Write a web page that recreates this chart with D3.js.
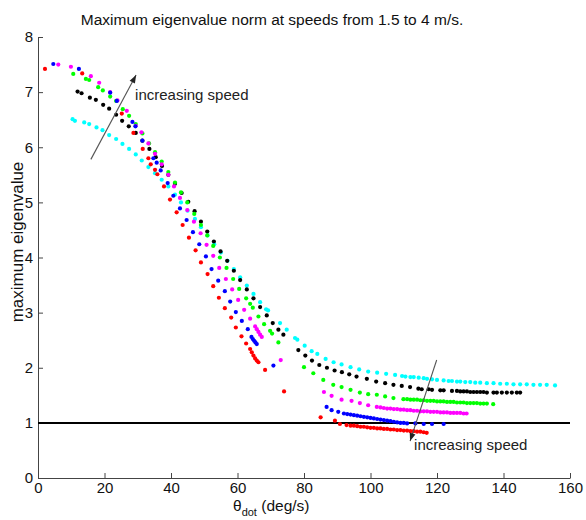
<!DOCTYPE html>
<html>
<head>
<meta charset="utf-8">
<script src="https://cdn.jsdelivr.net/npm/d3@7/dist/d3.min.js"></script>
<style>
  body { margin: 0; background: #fff; }
  text { font-family: "Liberation Sans", Arial, sans-serif; }
</style>
</head>
<body>
<svg id="chart"></svg>
<script>
// values: [theta_dot (deg/s), max eigenvalue]
var cyanPts = [[10.4,6.51],[11.1,6.48],[13.9,6.45],[15.4,6.42],[17.6,6.36],[19.4,6.31],[21.4,6.22],[23.5,6.15],[25.4,6.06],[27.4,5.97],[29.4,5.87],[31.2,5.76],[33.2,5.64],[35.2,5.53],[37.2,5.41],[39.2,5.29],[41.2,5.14],[43.0,5.00],[45.0,4.85],[47.2,4.70],[49.0,4.55],[51.0,4.40],[53.0,4.24],[55.0,4.09],[57.0,3.94],[58.9,3.79],[60.8,3.64],[62.8,3.49],[64.8,3.34],[66.8,3.19],[68.6,3.06],[69.2,3.04],[72.8,2.81],[74.8,2.69],[77.3,2.54],[78.0,2.51],[80.2,2.40],[82.3,2.30],[84.0,2.25],[86.5,2.16],[88.9,2.10],[91.3,2.06],[94.0,2.01],[96.6,1.97],[99.3,1.93],[102.0,1.91],[104.7,1.89],[107.4,1.87],[109.5,1.85],[110.5,1.84],[112,1.83],[113,1.83],[114.5,1.82],[116,1.81],[117,1.80],[118.5,1.79],[120,1.78],[122,1.77],[123.5,1.76],[124.5,1.76],[126,1.75],[127,1.75],[128.5,1.74],[130,1.74],[131.5,1.73],[133,1.73],[135,1.72],[137,1.72],[139,1.71],[141,1.71],[143,1.70],[145,1.70],[147,1.70],[149,1.69],[151,1.69],[153,1.69],[155.5,1.68]];
var blackPts = [[11.9,7.01],[13.1,6.98],[15.6,6.90],[17.4,6.86],[19.6,6.77],[21.4,6.70],[23.5,6.59],[25.3,6.48],[27.3,6.38],[29.4,6.26],[31.4,6.12],[33.5,5.97],[35.4,5.82],[37.3,5.66],[39.2,5.50],[41.2,5.34],[43.2,5.17],[45.2,5.01],[47.1,4.84],[49.0,4.65],[50.9,4.47],[52.9,4.29],[54.9,4.11],[56.9,3.94],[58.9,3.76],[60.8,3.59],[62.8,3.42],[64.8,3.26],[66.8,3.10],[68.8,2.95],[70.6,2.81],[72.3,2.69],[73.8,2.60],[78.3,2.32],[80.4,2.22],[82.4,2.13],[84.6,2.05],[86.9,2.00],[89.2,1.95],[91.4,1.92],[93.6,1.88],[95.8,1.84],[98.9,1.80],[101.7,1.75],[104.4,1.72],[106.9,1.69],[109.4,1.67],[111.9,1.65],[114.4,1.62],[115.4,1.61],[117.5,1.61],[118.5,1.60],[121,1.59],[122,1.59],[124.5,1.58],[126,1.58],[127,1.57],[128,1.57],[129,1.57],[130,1.56],[131,1.56],[132,1.56],[133,1.56],[134,1.56],[135,1.55],[137,1.55],[138,1.55],[139.5,1.55],[141,1.55],[142.5,1.55],[144,1.55],[145,1.55]];
var greenPts = [[10.6,7.33],[14.4,7.24],[15.4,7.22],[18.1,7.09],[19.5,7.03],[21.7,6.92],[23.5,6.84],[25.5,6.69],[27.4,6.57],[29.4,6.42],[31.4,6.25],[33.4,6.07],[35.2,5.91],[37.2,5.74],[39.2,5.55],[41.2,5.36],[43.0,5.18],[44.9,5.00],[47.0,4.79],[49.0,4.59],[50.9,4.40],[52.7,4.21],[54.7,4.00],[56.7,3.81],[58.7,3.61],[60.5,3.43],[62.6,3.26],[63.8,3.16],[64.6,3.09],[66.3,2.93],[68.0,2.79],[69.8,2.67],[70.4,2.62],[72.3,2.46],[80.0,2.01],[82.8,1.90],[85.8,1.78],[88.8,1.69],[91.3,1.65],[94.0,1.60],[96.8,1.55],[99.3,1.52],[101.9,1.51],[104.4,1.48],[106.9,1.45],[109.9,1.43],[111,1.43],[112,1.42],[113,1.42],[114,1.42],[115,1.41],[116,1.41],[117,1.40],[118,1.40],[119,1.40],[120,1.39],[121,1.39],[122,1.39],[123,1.38],[124,1.38],[125,1.38],[126,1.37],[127,1.37],[128,1.37],[129,1.36],[130,1.36],[131,1.36],[132,1.36],[133,1.35],[134,1.35],[135,1.35],[136.9,1.34]];
var magentaPts = [[6.1,7.50],[9.9,7.46],[15.9,7.29],[18.4,7.17],[21.7,7.00],[23.9,6.85],[26.7,6.66],[29.4,6.39],[31.1,6.27],[33.2,6.07],[35.2,5.88],[37.2,5.69],[39.2,5.50],[40.9,5.29],[42.7,5.08],[44.9,4.86],[46.9,4.65],[48.9,4.44],[50.7,4.23],[52.7,4.03],[54.5,3.81],[56.5,3.61],[58.4,3.42],[60.2,3.23],[62.0,3.05],[63.8,2.89],[65.3,2.75],[65.8,2.70],[66.3,2.65],[66.8,2.60],[67.3,2.56],[73.0,2.14],[86.0,1.56],[88.3,1.49],[91.3,1.42],[94.3,1.40],[96.8,1.36],[99.3,1.32],[101.9,1.29],[103,1.28],[104,1.27],[105,1.26],[106,1.26],[107,1.25],[108,1.25],[109,1.24],[110,1.24],[111,1.23],[112,1.23],[113,1.22],[114,1.22],[115,1.21],[116,1.21],[117,1.21],[118,1.20],[119,1.20],[120,1.20],[121,1.19],[122,1.19],[123,1.19],[124,1.18],[125,1.18],[126,1.18],[127,1.18],[128,1.17],[128.9,1.17]];
var bluePts = [[4.6,7.51],[12.3,7.42],[21.7,6.99],[23.7,6.84],[28.4,6.46],[29.3,6.38],[31.4,6.12],[34.7,5.80],[35.7,5.72],[36.9,5.58],[39.0,5.35],[40.7,5.12],[42.7,4.89],[44.7,4.68],[46.6,4.46],[48.5,4.24],[50.5,4.02],[52.2,3.79],[54.2,3.58],[56.2,3.39],[57.8,3.20],[59.5,3.01],[61.3,2.85],[63.1,2.70],[64.2,2.56],[64.6,2.52],[65.0,2.49],[65.4,2.46],[65.8,2.43],[70.8,2.04],[86.8,1.29],[88.3,1.23],[90.3,1.20],[92,1.17],[93,1.16],[94,1.15],[95,1.14],[96,1.13],[97,1.12],[98,1.11],[99,1.10],[100,1.09],[101,1.08],[102,1.07],[103,1.06],[104,1.05],[105,1.04],[106,1.03],[107,1.02],[108,1.01],[109,1.00],[110,1.00],[111,0.99],[113.5,0.99],[116,0.98],[118.5,0.98],[122,0.98]];
var redPts = [[2.1,7.42],[13.3,7.34],[25.2,6.61],[28.7,6.26],[31.5,5.97],[33.2,5.80],[33.9,5.69],[35.2,5.59],[35.9,5.51],[37.9,5.29],[39.7,5.05],[41.7,4.82],[43.5,4.59],[45.4,4.36],[47.4,4.13],[49.0,3.91],[51.0,3.70],[52.7,3.48],[54.4,3.27],[56.2,3.08],[58.1,2.91],[59.5,2.73],[61.2,2.57],[62.6,2.44],[63.8,2.34],[64.3,2.28],[64.8,2.22],[65.3,2.17],[65.8,2.13],[66.3,2.10],[68.3,1.96],[74.0,1.57],[85.0,1.10],[89.3,1.04],[90.8,0.98],[92.8,0.96],[94,0.95],[95,0.95],[96,0.94],[97,0.93],[98,0.93],[99,0.92],[100,0.91],[101,0.91],[102,0.90],[103,0.90],[104,0.89],[105,0.89],[106,0.88],[107,0.88],[108,0.87],[109,0.87],[110,0.86],[111,0.86],[112,0.85],[113,0.85],[114,0.84],[115,0.84],[116,0.83],[116.9,0.82]];

var xTicks = [0, 20, 40, 60, 80, 100, 120, 140, 160];
var yTicks = [0, 1, 2, 3, 4, 5, 6, 7, 8];
var refLevel = 1;
// annotation arrows in data units: [tail, head]
var arrowUp = [[15.9, 5.78], [29.5, 7.31]];
var arrowDown = [[119.9, 2.14], [111.9, 0.67]];

var series = [
  {pts: cyanPts, color: "#00ffff"},
  {pts: blackPts, color: "#000000"},
  {pts: greenPts, color: "#00ff00"},
  {pts: magentaPts, color: "#ff00ff"},
  {pts: bluePts, color: "#0000ff"},
  {pts: redPts, color: "#ff0000"}
];

var W = 586, H = 520;
var m = {left: 38, right: 16, top: 37, bottom: 42};

var svg = d3.select("#chart")
    .attr("width", W)
    .attr("height", H)
    .style("background-color", "white");

var x = d3.scaleLinear().domain([0, 160]).range([m.left, W - m.right]);
var y = d3.scaleLinear().domain([0, 8]).range([H - m.bottom, m.top]);

// axes, ticks pointing inwards like matlab
var gx = svg.append("g")
    .attr("transform", "translate(0," + y(0) + ")")
    .call(d3.axisBottom(x).tickValues(xTicks).tickSizeInner(-5).tickSizeOuter(0).tickPadding(4));
var gy = svg.append("g")
    .attr("transform", "translate(" + x(0) + ",0)")
    .call(d3.axisLeft(y).tickValues(yTicks).tickSizeInner(-5).tickSizeOuter(0).tickPadding(5));
[gx, gy].forEach(function(g){
  g.selectAll("path, line").attr("stroke", "#444");
  g.selectAll("text").attr("fill", "#111").style("font-size", "15px")
      .style("font-family", "'Liberation Sans', Arial, sans-serif");
});

// reference line at 1
svg.append("line")
    .attr("x1", x(0)).attr("x2", x(160))
    .attr("y1", y(refLevel)).attr("y2", y(refLevel))
    .attr("stroke", "black")
    .attr("stroke-width", 2);

// dots
series.forEach(function(s){
  svg.append("g").selectAll("circle")
      .data(s.pts)
      .enter().append("circle")
      .attr("cx", function(d){ return x(d[0]); })
      .attr("cy", function(d){ return y(d[1]); })
      .attr("r", 2.1)
      .attr("fill", s.color);
});

// arrows
function arrow(a){
  var x1 = x(a[0][0]), y1 = y(a[0][1]), x2 = x(a[1][0]), y2 = y(a[1][1]);
  var ang = Math.atan2(y2 - y1, x2 - x1);
  var L = 8, hw = 3;
  svg.append("line")
      .attr("x1", x1).attr("y1", y1).attr("x2", x2).attr("y2", y2)
      .attr("stroke", "#555").attr("stroke-width", 1.1);
  var bx = x2 - L * Math.cos(ang), by = y2 - L * Math.sin(ang);
  var px = -Math.sin(ang) * hw, py = Math.cos(ang) * hw;
  svg.append("path")
      .attr("d", "M" + x2 + "," + y2 + "L" + (bx + px) + "," + (by + py) + "L" + (bx - px) + "," + (by - py) + "Z")
      .attr("fill", "#222");
}
arrow(arrowUp);
arrow(arrowDown);

svg.append("text")
    .attr("x", x(29.2)).attr("y", y(6.86))
    .style("font-size", "15px").attr("fill", "#222")
    .text("increasing speed");
svg.append("text")
    .attr("x", x(113.1)).attr("y", y(0.51))
    .style("font-size", "15px").attr("fill", "#222")
    .text("increasing speed");

// title
svg.append("text")
    .attr("x", 272).attr("y", 25)
    .attr("text-anchor", "middle")
    .style("font-size", "15.5px").attr("fill", "#111")
    .text("Maximum eigenvalue norm at speeds from 1.5 to 4 m/s.");

// axis labels
svg.append("text")
    .attr("transform", "translate(23,242) rotate(-90)")
    .attr("text-anchor", "middle")
    .style("font-size", "17px").attr("fill", "#111")
    .text("maximum eigenvalue");

var xl = svg.append("text")
    .attr("x", 233).attr("y", 511)
    .style("font-size", "15.5px").attr("fill", "#111");
xl.append("tspan").text("\u03b8");
xl.append("tspan").attr("dy", 5).style("font-size", "11px").text("dot");
xl.append("tspan").attr("dy", -5).text(" (deg/s)");
</script>
</body>
</html>
